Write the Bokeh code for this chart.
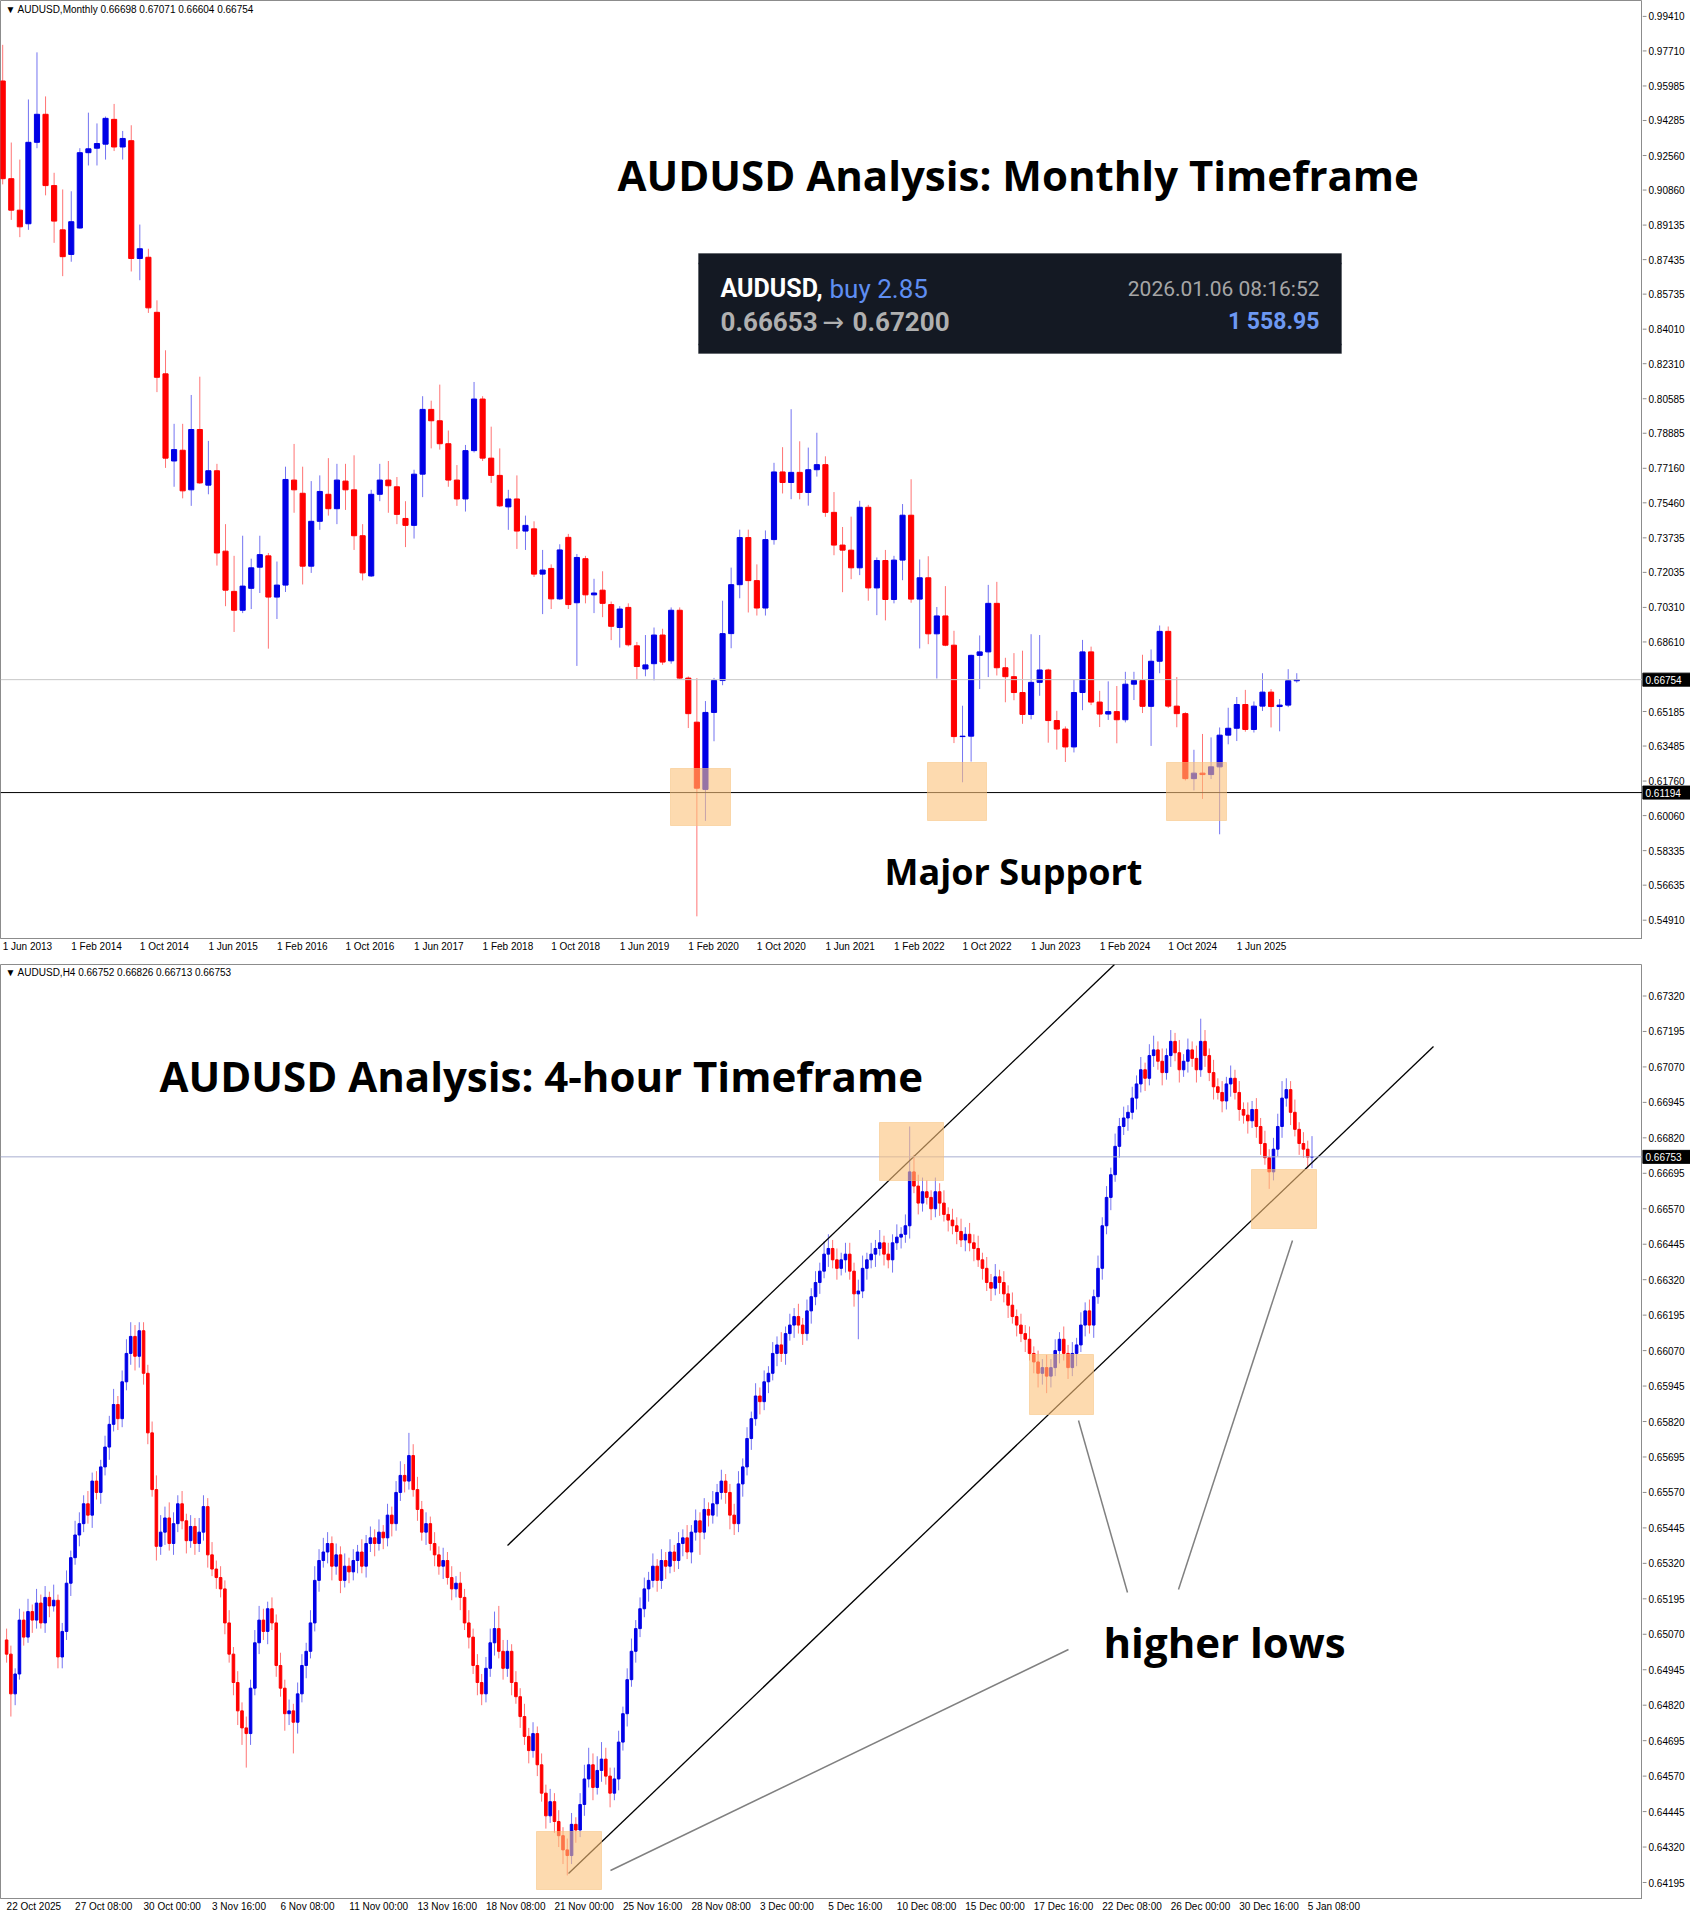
from bokeh.plotting import figure
from bokeh.layouts import column, row
from bokeh.models import FixedTicker, Span, Label, BoxAnnotation
from bokeh.embed import file_html
from bokeh.resources import INLINE
from bokeh.core.properties import value

# ---------------- Monthly data (Jun 2013 .. Jan 2026) ----------------
M_OPEN = [0.9623,0.9142,0.8987,0.8920,0.9321,0.9459,0.9108,0.8890,0.8769,0.8899,0.9270,0.9292,0.9312,0.9434,0.9298,0.9329,
          0.8749,0.8755,0.8484,0.8181,0.7752,0.7805,0.7610,0.7907,0.7633,0.7704,0.7308,0.7110,0.7017,0.7125,0.7229,0.7285,
          0.7082,0.7141,0.7658,0.7593,0.7234,0.7455,0.7588,0.7517,0.7653,0.7610,0.7384,0.7186,0.7588,0.7658,0.7625,0.7469,
          0.7435,0.7687,0.8006,0.7950,0.7837,0.7658,0.7565,0.7803,0.8057,0.7766,0.7681,0.7526,0.7565,0.7407,0.7418,0.7195,
          0.7223,0.7073,0.7376,0.7054,0.7271,0.7093,0.7116,0.7045,0.6932,0.7031,0.6842,0.6728,0.6754,0.6895,0.6768,0.7017,
          0.6683,0.6466,0.6135,0.6514,0.6671,0.6902,0.7143,0.7375,0.7163,0.7028,0.7365,0.7698,0.7646,0.7696,0.7597,0.7709,
          0.7734,0.7499,0.7338,0.7313,0.7226,0.7524,0.7127,0.7262,0.7070,0.7264,0.7485,0.7072,0.7177,0.6901,0.6989,0.6845,
          0.6395,0.6397,0.6795,0.6812,0.7051,0.6734,0.6690,0.6612,0.6504,0.6662,0.6723,0.6474,0.6432,0.6344,0.6612,0.6812,
          0.6565,0.6506,0.6518,0.6478,0.6653,0.6671,0.6544,0.6766,0.6913,0.6545,0.6508,0.6188,0.6215,0.6208,0.6246,0.6402,
          0.6436,0.6553,0.6430,0.6545,0.6614,0.6543,0.6550,0.66698]
M_HIGH = [0.9801,0.9320,0.9236,0.9532,0.9764,0.9547,0.9171,0.9089,0.9080,0.9292,0.9467,0.9414,0.9448,0.9510,0.9377,0.9405,
          0.8916,0.8797,0.8543,0.8297,0.7935,0.7935,0.8077,0.8167,0.7851,0.7738,0.7441,0.7285,0.7384,0.7271,0.7384,0.7299,
          0.7257,0.7724,0.7836,0.7724,0.7653,0.7681,0.7766,0.7738,0.7738,0.7780,0.7441,0.7610,0.7738,0.7752,0.7673,0.7554,
          0.7709,0.8071,0.8049,0.8128,0.7902,0.7732,0.7831,0.8141,0.8071,0.7921,0.7814,0.7610,0.7681,0.7483,0.7455,0.7314,
          0.7243,0.7342,0.7393,0.7294,0.7285,0.7172,0.7209,0.7060,0.7037,0.7051,0.6861,0.6895,0.6932,0.6926,0.7031,0.7031,
          0.6691,0.6683,0.6570,0.6684,0.7064,0.7227,0.7414,0.7414,0.7243,0.7410,0.7743,0.7820,0.8007,0.7849,0.7818,0.7891,
          0.7775,0.7599,0.7427,0.7478,0.7556,0.7536,0.7277,0.7314,0.7285,0.7540,0.7662,0.7267,0.7283,0.7033,0.7136,0.6916,
          0.6547,0.6798,0.6893,0.7142,0.7157,0.6783,0.6806,0.6818,0.6899,0.6895,0.6729,0.6522,0.6445,0.6676,0.6871,0.6838,
          0.6620,0.6667,0.6644,0.6714,0.6714,0.6798,0.6824,0.6942,0.6937,0.6688,0.6515,0.6330,0.6408,0.6391,0.6440,0.6537,
          0.6590,0.6625,0.6568,0.6707,0.6629,0.6580,0.6727,0.67071]
M_LOW = [0.9114,0.8939,0.8854,0.8890,0.9292,0.9060,0.8826,0.8662,0.8733,0.8896,0.9207,0.9207,0.9236,0.9278,0.9236,0.8685,
         0.8642,0.8481,0.8091,0.7718,0.7625,0.7568,0.7531,0.7639,0.7588,0.7237,0.7037,0.6910,0.7003,0.7023,0.7102,0.6828,
         0.6974,0.7107,0.7497,0.7144,0.7201,0.7413,0.7483,0.7441,0.7511,0.7314,0.7164,0.7181,0.7554,0.7497,0.7441,0.7328,
         0.7370,0.7574,0.7814,0.7808,0.7625,0.7531,0.7503,0.7794,0.7752,0.7644,0.7526,0.7413,0.7319,0.7314,0.7181,0.6998,
         0.7023,0.7068,0.7023,0.6743,0.7051,0.7003,0.6983,0.6870,0.6833,0.6839,0.6678,0.6692,0.6672,0.6748,0.6754,0.6678,
         0.6437,0.5510,0.5980,0.6372,0.6648,0.6830,0.7076,0.7006,0.6991,0.6991,0.7340,0.7592,0.7564,0.7563,0.7532,0.7675,
         0.7477,0.7288,0.7106,0.7170,0.7190,0.7064,0.6993,0.6967,0.7051,0.7165,0.7054,0.6829,0.6850,0.6681,0.6840,0.6363,
         0.6170,0.6272,0.6629,0.6688,0.6696,0.6564,0.6574,0.6458,0.6480,0.6596,0.6365,0.6331,0.6270,0.6317,0.6525,0.6550,
         0.6442,0.6477,0.6362,0.6465,0.6575,0.6511,0.6349,0.6707,0.6536,0.6441,0.6179,0.6130,0.6088,0.6186,0.5914,0.6357,
         0.6373,0.6419,0.6415,0.6521,0.6440,0.6421,0.6540,0.66604]
M_CLOSE = [0.9142,0.8987,0.8905,0.9321,0.9459,0.9108,0.8933,0.8758,0.8930,0.9270,0.9289,0.9315,0.9439,0.9298,0.9340,0.8749,
           0.8797,0.8506,0.8164,0.7766,0.7808,0.7605,0.7907,0.7644,0.7704,0.7299,0.7116,0.7017,0.7136,0.7226,0.7291,0.7082,
           0.7141,0.7661,0.7610,0.7234,0.7455,0.7602,0.7517,0.7658,0.7610,0.7384,0.7201,0.7588,0.7658,0.7630,0.7489,0.7435,
           0.7687,0.8006,0.7950,0.7837,0.7658,0.7565,0.7803,0.8057,0.7766,0.7681,0.7531,0.7565,0.7407,0.7435,0.7195,0.7215,
           0.7073,0.7314,0.7045,0.7277,0.7093,0.7102,0.7051,0.6938,0.7023,0.6847,0.6740,0.6748,0.6895,0.6762,0.7017,0.6683,
           0.6508,0.6141,0.6514,0.6671,0.6902,0.7143,0.7375,0.7163,0.7028,0.7365,0.7698,0.7646,0.7696,0.7597,0.7709,0.7734,
           0.7499,0.7338,0.7313,0.7226,0.7524,0.7127,0.7262,0.7070,0.7264,0.7485,0.7072,0.7177,0.6901,0.6989,0.6845,0.6395,
           0.6397,0.6795,0.6812,0.7051,0.6734,0.6690,0.6612,0.6504,0.6662,0.6723,0.6474,0.6432,0.6344,0.6612,0.6812,0.6565,
           0.6506,0.6518,0.6478,0.6653,0.6671,0.6544,0.6766,0.6913,0.6545,0.6508,0.6188,0.6215,0.6208,0.6246,0.6402,0.6436,
           0.6553,0.6430,0.6545,0.6614,0.6543,0.6550,0.6670,0.66754]
M_TICK_LABELS = ["1 Jun 2013","1 Feb 2014","1 Oct 2014","1 Jun 2015","1 Feb 2016","1 Oct 2016","1 Jun 2017",
                 "1 Feb 2018","1 Oct 2018","1 Jun 2019","1 Feb 2020","1 Oct 2020","1 Jun 2021","1 Feb 2022",
                 "1 Oct 2022","1 Jun 2023","1 Feb 2024","1 Oct 2024","1 Jun 2025"]
M_PRICE_TICKS = [0.99410,0.97710,0.95985,0.94285,0.92560,0.90860,0.89135,0.87435,0.85735,0.84010,0.82310,0.80585,
                 0.78885,0.77160,0.75460,0.73735,0.72035,0.70310,0.68610,0.65185,0.63485,0.61760,0.60060,0.58335,
                 0.56635,0.54910]
M_TAGS = [0.66754, 0.61194]
M_LAST = 0.66754
M_SUPPORT = 0.61194

# ---------------- H4 data (22 Oct 2025 16:00 .. 5 Jan 2026), prices in 1e-5 ----------------
H_CLOSE = [65000,64860,64930,65120,65060,65150,65120,65180,65110,65200,65170,65190,64990,
           65080,65250,65340,65420,65460,65530,65490,65610,65570,65660,65730,65810,65880,65830,65960,66060,66120,66050,66140,65990,
           65780,65580,65380,65430,65480,65390,65460,65530,65470,65400,65450,65390,65430,65520,65350,65300,65270,65230,
           65110,65000,64900,64800,64740,64720,64880,65040,65120,65080,65160,65110,64960,64880,64790,64800,64760,64860,
           64960,65010,65110,65260,65330,65360,65390,65310,65350,65260,65310,65290,65330,65360,65310,65390,65410,65390,65430,65410,65490,65460,65570,65630,65610,65700,
           65580,65510,65430,65460,65390,65350,65310,65330,65270,65230,65250,65200,65110,65060,64960,64900,64860,64950,65040,65090,65010,64950,65010,64900,64850,64780,64710,64660,64720,64610,64510,64430,64480,64410,
           64360,64310,64290,64400,64380,64470,64560,64610,64530,64590,64630,64570,64510,64560,64690,64790,64910,65010,65090,65160,
           65230,65260,65310,65260,65330,65310,65360,65330,65390,65410,65360,65430,65470,65430,65510,65490,65530,65570,65610,65570,65490,65460,65600,65660,
           65760,65830,65910,65890,65960,65990,66060,66090,66060,66130,66160,66190,66160,66130,66210,66260,66310,66350,66410,66430,66390,66360,66390,66410,
           66350,66270,66280,66360,66390,66410,66430,66450,66410,66390,66450,66470,66480,66510,66700,66650,66590,66630,
           66610,66570,66630,66590,66550,66530,66510,66490,66460,66480,66450,66430,66390,66360,66310,66290,66330,66310,66270,66230,66190,66160,66130,66110,66060,66030,65990,66010,65980,66010,
           66070,66110,66060,66010,66060,66090,66160,66210,66160,66260,66360,66510,66610,66690,66790,66860,66890,66910,
           66960,67010,67060,67030,67110,67130,67090,67050,67110,67160,67120,67060,67090,67130,67100,67060,67160,67110,67050,67000,66980,66950,67010,67030,66980,66920,66900,66880,66920,66860,
           66800,66750,66700,66780,66860,66960,66990,66910,66850,66800,66780,66752,66753]
H_UPWICK = [40,30,20,40,30,45,25,50,30,40,20,55,20,
            30,45,25,50,40,30,45,30,35,25,40,30,55,30,40,50,50,40,30,30,
            30,40,50,60,40,55,40,30,45,25,40,30,50,40,30,45,30,40,
            30,45,25,40,30,40,30,45,50,40,25,40,30,45,30,40,25,40,
            40,30,45,50,40,50,40,25,40,30,45,30,40,25,45,30,40,30,45,25,40,30,40,50,40,80,
            40,45,30,40,25,40,30,45,30,40,25,40,30,45,30,40,30,40,50,60,80,40,40,25,40,30,45,30,40,25,40,30,45,30,
            40,30,40,40,25,40,50,60,40,50,60,40,30,40,40,25,40,45,30,40,
            40,30,45,25,40,30,45,25,40,30,45,25,40,30,40,25,45,30,40,25,30,40,45,30,
            40,25,45,30,40,25,40,30,45,25,40,30,45,25,40,30,40,30,45,50,30,40,25,40,
            40,30,40,45,25,40,30,45,25,40,30,45,25,40,160,60,40,50,
            40,25,50,30,45,25,40,30,45,25,40,30,45,25,40,30,45,25,40,30,45,25,40,30,45,25,40,30,45,30,
            40,25,45,30,40,25,45,30,40,25,45,30,40,25,45,30,40,25,
            40,30,45,25,40,50,30,45,25,40,30,45,25,40,30,45,80,40,25,45,30,40,25,45,30,40,25,45,30,40,
            30,45,30,40,45,60,40,30,45,25,40,30,73]
H_DNWICK = [30,80,40,20,30,20,45,30,20,35,40,20,40,
            40,30,45,25,40,30,30,45,25,40,30,45,25,40,30,30,40,50,40,40,
            40,25,50,30,45,25,40,30,30,45,25,40,30,30,45,25,40,30,
            40,30,45,50,60,120,40,25,40,30,45,25,40,30,60,40,110,40,
            30,45,25,30,40,25,40,50,30,45,25,40,30,45,25,40,30,45,25,40,30,45,25,30,40,30,
            25,40,30,45,25,40,30,45,25,40,30,45,25,40,30,45,40,30,30,45,25,40,30,45,25,40,30,45,25,40,30,45,25,40,
            40,50,70,30,45,25,40,30,45,25,40,30,50,25,40,30,45,25,40,30,
            30,45,25,40,30,45,25,40,30,45,25,40,30,80,25,40,30,45,25,40,50,40,30,45,
            30,40,25,45,30,40,25,45,30,40,25,45,30,40,25,45,30,40,25,45,30,40,25,45,
            30,45,160,25,40,30,45,25,40,30,45,25,40,30,45,25,40,30,
            25,40,30,45,25,40,30,45,25,40,30,45,25,40,30,45,25,40,30,45,25,40,30,45,25,40,50,40,60,40,
            30,45,25,40,30,45,25,40,30,45,25,40,30,45,25,40,30,45,
            25,40,30,45,25,40,30,45,25,40,30,45,25,40,30,45,25,40,30,45,25,40,30,45,25,40,30,45,25,40,
            40,25,60,30,25,40,30,45,25,40,30,40,39]
H_FIRST_OPEN = 65050
H_TICK_LABELS = ["22 Oct 2025","27 Oct 08:00","30 Oct 00:00","3 Nov 16:00","6 Nov 08:00","11 Nov 00:00",
                 "13 Nov 16:00","18 Nov 08:00","21 Nov 00:00","25 Nov 16:00","28 Nov 08:00","3 Dec 00:00",
                 "5 Dec 16:00","10 Dec 08:00","15 Dec 00:00","17 Dec 16:00","22 Dec 08:00","26 Dec 00:00",
                 "30 Dec 16:00","5 Jan 08:00"]
H_PRICE_TICKS = [0.67320,0.67195,0.67070,0.66945,0.66820,0.66695,0.66570,0.66445,0.66320,0.66195,0.66070,
                 0.65945,0.65820,0.65695,0.65570,0.65445,0.65320,0.65195,0.65070,0.64945,0.64820,0.64695,
                 0.64570,0.64445,0.64320,0.64195]
H_TAGS = [0.66753]
H_LAST = 0.66753

assert len(H_CLOSE) == len(H_UPWICK) == len(H_DNWICK), (len(H_CLOSE), len(H_UPWICK), len(H_DNWICK))

BULL = "#0000e6"
BEAR = "#ff0000"
GRAY = "#8c8c8c"
AXIS_FONT = "Liberation Sans"

CW = {c: 5.56 for c in "0123456789"}
CW.update({' ': 2.78, ':': 2.78, '.': 2.78, 'J': 5.0, 'F': 6.11, 'O': 7.78, 'N': 7.22, 'D': 7.22,
           'u': 5.56, 'n': 5.56, 'e': 5.56, 'b': 5.56, 'c': 5.0, 't': 2.78, 'o': 5.56, 'v': 5.0, 'a': 5.56})
def tw(s):
    return sum(CW.get(c, 5.5) for c in s)

# reference-pixel -> data helpers (layout only)
M_PXU = 2031.0
H_PXU = 28368.0
def tx(xr): return (xr - 2.2) / 8.57
def ty(yr): return 0.99410 - (yr - 15.9) / M_PXU
def bx(xr): return (xr - 6.1) / 4.28
def by(yr): return 0.6732 - (yr - 995.5) / H_PXU

FRAME_W = 1642
AXIS_W = 48


def style(p):
    p.grid.visible = False
    p.outline_line_color = GRAY
    p.background_fill_color = "white"
    p.border_fill_color = "white"
    xa = p.xaxis[0]
    xa.axis_line_color = GRAY
    xa.major_tick_out = 0
    xa.major_tick_in = 0
    xa.minor_tick_line_color = None
    xa.major_label_standoff = 2
    xa.major_label_text_font = AXIS_FONT
    xa.major_label_text_font_size = "10px"
    xa.major_label_text_color = "black"


def price_axis(y_range, frame_h, ticks, tags, pxu, top_b, bot_b):
    a = figure(frame_width=AXIS_W, frame_height=frame_h, x_range=(0, AXIS_W), y_range=y_range,
               output_backend="svg", toolbar_location=None, x_axis_location=None, y_axis_location=None,
               min_border_left=0, min_border_right=0, min_border_top=top_b, min_border_bottom=bot_b)
    a.grid.visible = False
    a.outline_line_color = None
    a.background_fill_color = "white"
    a.border_fill_color = "white"
    n = len(ticks)
    a.segment(x0=[0] * n, y0=ticks, x1=[4] * n, y1=ticks, line_color=GRAY, line_width=1)
    a.text(x=[6] * n, y=ticks, text=["%.5f" % t for t in ticks], text_font=value(AXIS_FONT),
           text_font_size="10px", text_baseline="middle", text_align="left", text_color="black")
    m = len(tags)
    half = 6.5 / pxu
    a.quad(left=[0] * m, right=[AXIS_W] * m, top=[t + half for t in tags], bottom=[t - half for t in tags],
           fill_color="black", line_color="black")
    a.text(x=[3] * m, y=tags, text=["%.5f" % t for t in tags], text_font=value(AXIS_FONT),
           text_font_size="10px", text_baseline="middle", text_align="left", text_color="white")
    return a


def candles(p, o, h, l, c, width):
    idx = list(range(len(c)))
    cols = [BULL if cc >= oo else BEAR for oo, cc in zip(o, c)]
    p.segment(x0=idx, y0=l, x1=idx, y1=h, line_color=cols, line_width=1, line_alpha=0.55)
    top = [max(a, b) for a, b in zip(o, c)]
    bot = [min(a, b) for a, b in zip(o, c)]
    p.vbar(x=idx, width=width, top=top, bottom=bot, fill_color=cols, line_color=cols, line_width=1)


def box(p, x0, x1, y0, y1):
    p.add_layout(BoxAnnotation(left=x0, right=x1, top=y0, bottom=y1, fill_color="#fbc27a",
                               fill_alpha=0.6, line_color="#f6c07a", line_alpha=0.5, line_width=1))


def text(p, x, y, s, size, color="black", bold=True, font="Open Sans", align="left"):
    p.add_layout(Label(x=x, y=y, text=s, text_font=font, text_font_size=size, text_color=color,
                       text_font_style="bold" if bold else "normal", text_baseline="middle",
                       text_align=align))


# ================= Monthly figure =================
M_FRAME_H = 938
M_BOT = 26
pm = figure(frame_width=FRAME_W, frame_height=M_FRAME_H, x_range=(tx(0), tx(FRAME_W)), y_range=(ty(938), ty(0)),
            output_backend="svg", toolbar_location=None, y_axis_location=None,
            min_border_left=0, min_border_right=0, min_border_top=0, min_border_bottom=M_BOT)
style(pm)
m_tick_pos = [8 * k + tw(s) / 2.0 / 8.57 for k, s in enumerate(M_TICK_LABELS)]
pm.xaxis[0].ticker = FixedTicker(ticks=m_tick_pos)
pm.xaxis[0].major_label_overrides = {t: s for t, s in zip(m_tick_pos, M_TICK_LABELS)}

pm.add_layout(Span(location=M_LAST, dimension="width", line_color="#c8c8c8", line_width=1))
pm.add_layout(Span(location=M_SUPPORT, dimension="width", line_color="black", line_width=1))
candles(pm, M_OPEN, M_HIGH, M_LOW, M_CLOSE, 0.6)

box(pm, tx(670), tx(730), ty(768), ty(825))
box(pm, tx(927), tx(986), ty(762), ty(820))
box(pm, tx(1166), tx(1226), ty(762), ty(820))

text(pm, tx(5), ty(9), "\u25BC AUDUSD,Monthly  0.66698 0.67071 0.66604 0.66754", "10px", bold=False, font=AXIS_FONT)
text(pm, tx(617), ty(174), "AUDUSD Analysis: Monthly Timeframe", "42px")
text(pm, tx(884), ty(871), "Major Support", "36px")

# trade info box
pm.add_layout(BoxAnnotation(left=tx(698), right=tx(1341), top=ty(253), bottom=ty(353),
                            fill_color="#141923", fill_alpha=1.0, line_color="#141923"))
pm.line([tx(698), tx(1341)], [ty(263), ty(263)], line_color="#2c3343", line_width=1.5)
pm.line([tx(698), tx(1341)], [ty(344), ty(344)], line_color="#2c3343", line_width=1.5)
text(pm, tx(720), ty(288), "AUDUSD,", "25px", color="white", font="Roboto")
text(pm, tx(829), ty(288), "buy 2.85", "26px", color="#5f8ef2", bold=False, font="Roboto")
text(pm, tx(720), ty(321), "0.66653", "26px", color="#b0b0b0", font="Roboto")
text(pm, tx(822), ty(321), "\u2192", "26px", color="#b0b0b0", bold=False, font="DejaVu Sans")
text(pm, tx(852), ty(321), "0.67200", "26px", color="#b0b0b0", font="Roboto")
text(pm, tx(1319), ty(288), "2026.01.06 08:16:52", "21px", color="#a6a6a6", bold=False, font="Roboto", align="right")
text(pm, tx(1319), ty(321), "1 558.95", "23px", color="#6d98f2", font="Roboto", align="right")

am = price_axis(pm.y_range, M_FRAME_H, M_PRICE_TICKS, M_TAGS, M_PXU, 0, M_BOT)

# ================= H4 figure =================
h_close = [v / 1e5 for v in H_CLOSE]
h_open = [H_FIRST_OPEN / 1e5] + h_close[:-1]
h_high = [max(a, b) + u / 1e5 for a, b, u in zip(h_open, h_close, H_UPWICK)]
h_low = [min(a, b) - d / 1e5 for a, b, d in zip(h_open, h_close, H_DNWICK)]

H_FRAME_H = 934
H_BOT = 20
ph = figure(frame_width=FRAME_W, frame_height=H_FRAME_H, x_range=(bx(0), bx(FRAME_W)), y_range=(by(1898), by(964)),
            output_backend="svg", toolbar_location=None, y_axis_location=None,
            min_border_left=0, min_border_right=0, min_border_top=0, min_border_bottom=H_BOT)
style(ph)
h_tick_pos = [16 * k + tw(s) / 2.0 / 4.28 for k, s in enumerate(H_TICK_LABELS)]
ph.xaxis[0].ticker = FixedTicker(ticks=h_tick_pos)
ph.xaxis[0].major_label_overrides = {t: s for t, s in zip(h_tick_pos, H_TICK_LABELS)}

ph.add_layout(Span(location=H_LAST, dimension="width", line_color="#a9aed0", line_width=1))
candles(ph, h_open, h_high, h_low, h_close, 0.6)

box(ph, bx(536), bx(601), by(1831), by(1889))
box(ph, bx(879), bx(943), by(1122), by(1180))
box(ph, bx(1029), bx(1093), by(1354), by(1414))
box(ph, bx(1251), bx(1316), by(1169), by(1228))

ph.line([bx(507), bx(1114)], [by(1545), by(964)], line_color="black", line_width=1.3)
ph.line([bx(568), bx(1433)], [by(1873), by(1046)], line_color="black", line_width=1.3)
ph.line([bx(1078), bx(1127)], [by(1420), by(1592)], line_color="#808080", line_width=1.5)
ph.line([bx(1292), bx(1178)], [by(1240), by(1589)], line_color="#808080", line_width=1.5)
ph.line([bx(1068), bx(610)], [by(1649), by(1870)], line_color="#808080", line_width=1.5)

text(ph, bx(5), by(972), "\u25BC AUDUSD,H4  0.66752 0.66826 0.66713 0.66753", "10px", bold=False, font=AXIS_FONT)
text(ph, bx(159), by(1075), "AUDUSD Analysis: 4-hour Timeframe", "42px")
text(ph, bx(1103), by(1641), "higher lows", "42px")

ah = price_axis(ph.y_range, H_FRAME_H, H_PRICE_TICKS, H_TAGS, H_PXU, 0, H_BOT)

layout = column(row(pm, am, spacing=0), row(ph, ah, spacing=0), spacing=0)
open("out.html", "w").write(file_html(layout, INLINE))
